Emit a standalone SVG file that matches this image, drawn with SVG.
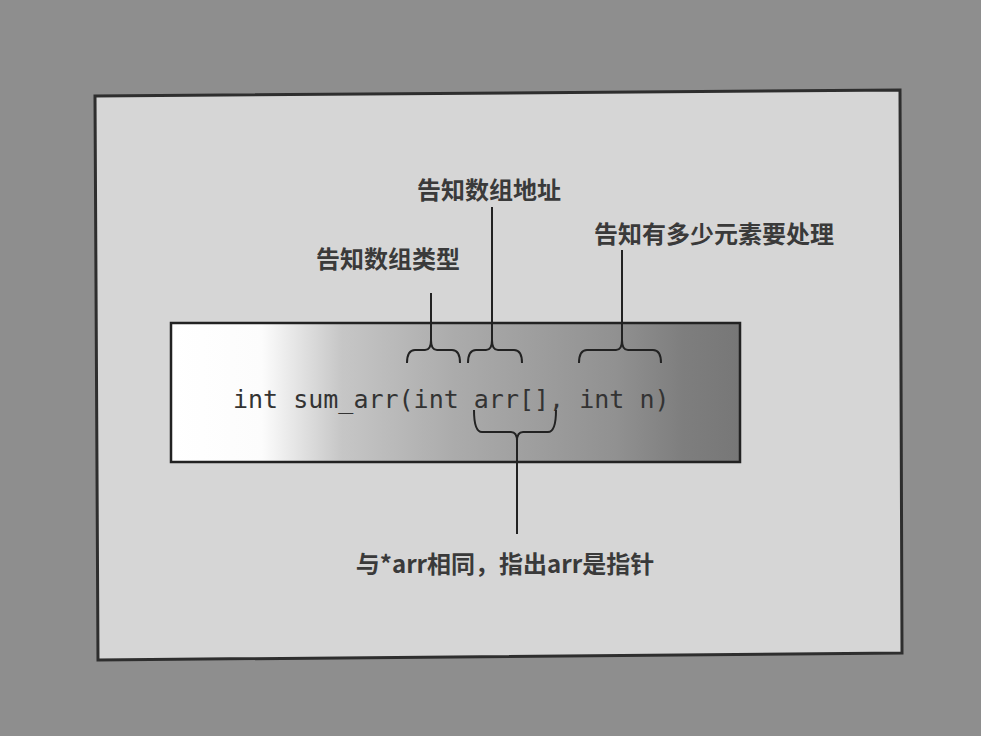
<svg xmlns="http://www.w3.org/2000/svg" width="981" height="736" viewBox="0 0 981 736">
  <defs>
    <linearGradient id="codeGrad" x1="171" y1="0" x2="740" y2="0" gradientUnits="userSpaceOnUse">
      <stop offset="0" stop-color="#ffffff"/>
      <stop offset="0.16" stop-color="#fcfcfc"/>
      <stop offset="0.3" stop-color="#c6c6c6"/>
      <stop offset="0.5" stop-color="#ababab"/>
      <stop offset="0.78" stop-color="#919191"/>
      <stop offset="0.9" stop-color="#7e7e7e"/>
      <stop offset="1" stop-color="#777777"/>
    </linearGradient>
    <style>
      .lbl { font-family: "Noto Sans CJK SC", "Liberation Serif", serif; font-size: 24px; font-weight: bold; fill: #3a3a3a; text-anchor: middle; dominant-baseline: central; }
      .code { font-family: "DejaVu Sans Mono", "Liberation Mono", monospace; font-size: 25px; fill: #333333; }
      .ln { stroke: #222222; stroke-width: 2; fill: none; }
      .brace { stroke: #222222; stroke-width: 2; fill: none; }
    </style>
  </defs>

  <rect x="0" y="0" width="981" height="736" fill="#8e8e8e"/>
  <polygon points="95,96 900,90 902,653 98,660" fill="#d6d6d6" stroke="#2e2e2e" stroke-width="3"/>

  <g id="code-box">
    <rect x="171" y="323" width="569" height="139" fill="url(#codeGrad)" stroke="#222222" stroke-width="2.5"/>
    <text class="code" x="233" y="408">int sum_arr(int arr[], int n)</text>
  </g>

  <g id="connectors">
    <path class="brace" d="M407,363 Q407,350 415,350 L425,350 Q431,350 431,340 Q431,350 437,350 L452,350 Q460,350 460,363"/>
    <path class="brace" d="M468,363 Q468,350 476,350 L486,350 Q492,350 492,340 Q492,350 498,350 L514,350 Q522,350 522,363"/>
    <path class="brace" d="M579,363 Q579,350 587,350 L616,350 Q622,350 622,340 Q622,350 628,350 L653,350 Q661,350 661,363"/>
    <path class="brace" d="M474,410 Q474,432 482,432 L511,432 Q517,432 517,441 Q517,432 523,432 L548,432 Q556,432 556,410"/>
    <line class="ln" x1="431" y1="293" x2="431" y2="340"/>
    <line class="ln" x1="492" y1="207" x2="492" y2="340"/>
    <line class="ln" x1="622" y1="250" x2="622" y2="340"/>
    <line class="ln" x1="517" y1="441" x2="517" y2="534"/>
  </g>

  <g id="label-type">
    <text class="lbl" x="388" y="257">告知数组类型</text>
  </g>
  <g id="label-address">
    <text class="lbl" x="489" y="188">告知数组地址</text>
  </g>
  <g id="label-count">
    <text class="lbl" x="714" y="232">告知有多少元素要处理</text>
  </g>
  <g id="label-pointer">
    <text class="lbl" x="505" y="562">与*arr相同，指出arr是指针</text>
  </g>
</svg>
